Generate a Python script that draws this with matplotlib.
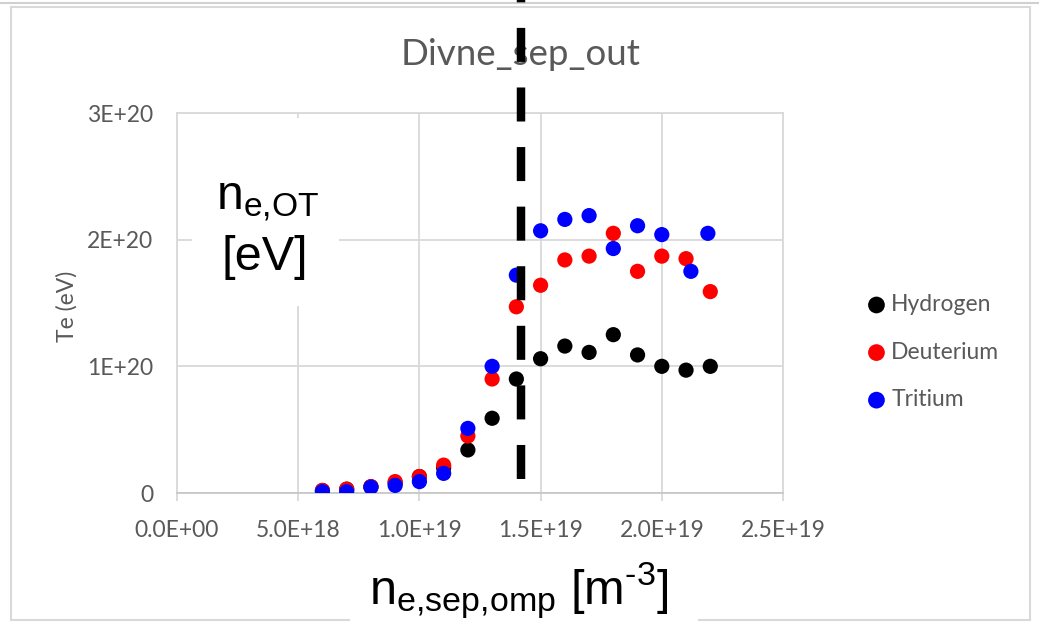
import matplotlib
matplotlib.use("Agg")
import matplotlib.pyplot as plt
from matplotlib.patches import Rectangle
from matplotlib.lines import Line2D

plt.rcParams['font.family'] = ['Lato', 'DejaVu Sans']
plt.rcParams['mathtext.fontset'] = 'custom'
plt.rcParams['mathtext.rm'] = 'Liberation Sans'
plt.rcParams['mathtext.it'] = 'Liberation Sans:italic'
plt.rcParams['lines.scale_dashes'] = False

# donnees
ne_sep = [6.0e18, 7.0e18, 8.0e18, 9.0e18, 1.0e19, 1.1e19, 1.2e19, 1.3e19, 1.4e19,
          1.5e19, 1.6e19, 1.7e19, 1.8e19, 1.9e19, 2.0e19, 2.1e19, 2.2e19]
ne_sep_T = [6.0e18, 7.0e18, 8.0e18, 9.0e18, 1.0e19, 1.1e19, 1.2e19, 1.3e19, 1.4e19,
            1.5e19, 1.6e19, 1.7e19, 1.8e19, 1.9e19, 2.0e19, 2.12e19, 2.19e19]
hydrogen = [0.02e20, 0.03e20, 0.05e20, 0.08e20, 0.13e20, 0.20e20, 0.34e20, 0.59e20, 0.90e20,
            1.06e20, 1.16e20, 1.11e20, 1.25e20, 1.09e20, 1.00e20, 0.97e20, 1.00e20]
deuterium = [0.02e20, 0.03e20, 0.05e20, 0.09e20, 0.13e20, 0.22e20, 0.45e20, 0.90e20, 1.47e20,
             1.64e20, 1.84e20, 1.87e20, 2.05e20, 1.75e20, 1.87e20, 1.85e20, 1.59e20]
tritium = [0.01e20, 0.01e20, 0.045e20, 0.06e20, 0.09e20, 0.155e20, 0.51e20, 1.00e20, 1.72e20,
           2.07e20, 2.16e20, 2.19e20, 1.93e20, 2.11e20, 2.04e20, 1.75e20, 2.05e20]

xticks = [0, 5e18, 1e19, 1.5e19, 2e19, 2.5e19]
xlabels = ["0.0E+00", "5.0E+18", "1.0E+19", "1.5E+19", "2.0E+19", "2.5E+19"]
yticks = [0, 1e20, 2e20, 3e20]
ylabels = ["0", "1E+20", "2E+20", "3E+20"]

W, H = 1039, 622
gris = "#595959"
grille = "#D9D9D9"

def fx(px):
    return px / W

def fy(py):
    return 1 - py / H

fig = plt.figure(figsize=(W / 100, H / 100), dpi=100)
ax = fig.add_axes([fx(177), fy(493), fx(783) - fx(177), fy(113) - fy(493)])

ax.scatter(ne_sep, hydrogen, s=120, color="#000000", edgecolors="none", label="Hydrogen", zorder=3)
ax.scatter(ne_sep, deuterium, s=120, color="#FF0000", edgecolors="none", label="Deuterium", zorder=3)
ax.scatter(ne_sep_T, tritium, s=120, color="#0000FF", edgecolors="none", label="Tritium", zorder=3)

ax.set_xlim(0, 2.5e19)
ax.set_ylim(0, 3e20)
ax.set_xticks(xticks, xlabels)
ax.set_yticks(yticks, ylabels)
ax.grid(True, color=grille, linewidth=1.3)
ax.set_axisbelow(True)
for s in ["top", "right", "left"]:
    ax.spines[s].set_color(grille)
    ax.spines[s].set_linewidth(1.3)
ax.spines["bottom"].set_color("#C8C8C8")
ax.spines["bottom"].set_linewidth(1.3)
ax.tick_params(axis="x", direction="out", length=6, width=1.3, color=grille,
               labelsize=16.5, labelcolor=gris, pad=13.5)
ax.tick_params(axis="y", length=0, labelsize=16.5, labelcolor=gris, pad=17)

fig.text(fx(521), fy(65), "Divne_sep_out", fontsize=26.5, color=gris, ha="center", va="baseline")
fig.text(fx(67), fy(306), "Te (eV)", fontsize=16.5, color=gris, rotation=90, ha="center", va="center")

fig.legend(loc="upper left", bbox_to_anchor=(fx(865), fy(294)), frameon=False,
           fontsize=16.5, labelcolor=gris, handlelength=1.0, handletextpad=0.15,
           labelspacing=1.16, borderpad=0, borderaxespad=0, scatterpoints=1, markerscale=1.1)

# cadre du graphique
fig.add_artist(Rectangle((fx(11), fy(620)), fx(1030) - fx(11), fy(7) - fy(620),
                         transform=fig.transFigure, fill=False, edgecolor=grille, linewidth=1.5))
fig.add_artist(Line2D([0, 1], [fy(3), fy(3)], transform=fig.transFigure, color="#D0D0D0", linewidth=1.5))

# caches blancs sous les annotations
fig.add_artist(Rectangle((fx(192), fy(306)), fx(339) - fx(192), fy(118) - fy(306),
                         transform=fig.transFigure, facecolor="white", edgecolor="none", zorder=5))
fig.add_artist(Rectangle((fx(350), 0), fx(698) - fx(350), fy(572),
                         transform=fig.transFigure, facecolor="white", edgecolor="none", zorder=5))

fig.text(fx(216), fy(210), r"$\mathrm{n_{e{,}OT}}$", fontsize=34.5, color="black",
         family="Liberation Sans", ha="left", va="baseline", zorder=6)
fig.text(fx(265), fy(270), "[eV]", fontsize=35, color="black",
         family="Liberation Sans", ha="center", va="baseline", zorder=6)
fig.text(fx(369), fy(604), r"$\mathrm{n_{e{,}sep{,}omp}}$ [m$^{\text{-3}}$]", fontsize=35, color="black",
         family="Liberation Sans", ha="left", va="baseline", zorder=6)

# ligne verticale en tirets
fig.add_artist(Line2D([fx(521), fx(521)], [fy(479), fy(-5)], transform=fig.transFigure,
                      color="black", linewidth=6.1, linestyle=(0, (24.5, 18.4)), zorder=7))

fig.savefig("out.png", dpi=100)
